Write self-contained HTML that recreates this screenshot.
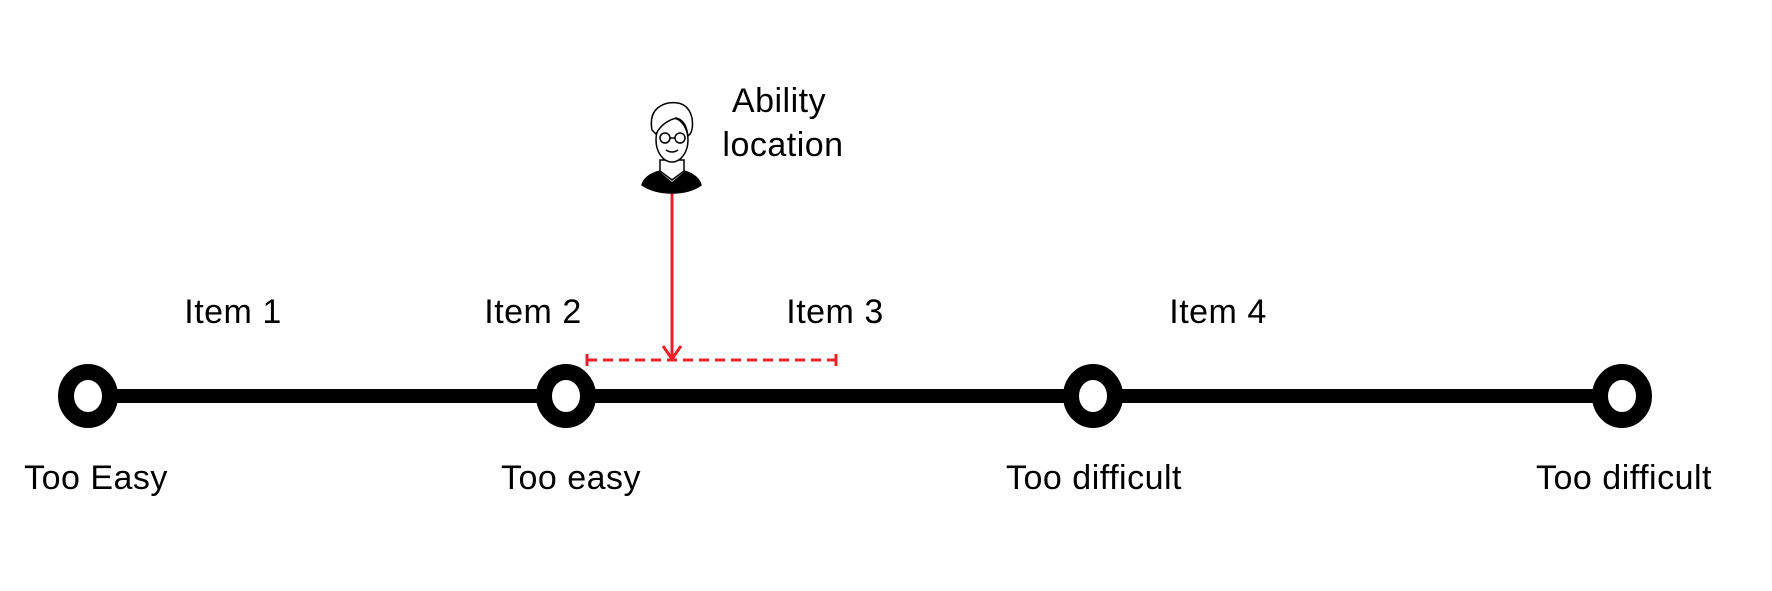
<!DOCTYPE html>
<html><head><meta charset="utf-8"><style>
html,body{margin:0;padding:0;background:#fff;}
svg{display:block}
text{font-family:"Liberation Sans",sans-serif;font-size:34px;fill:#000;text-anchor:middle;letter-spacing:0.5px}
</style></head><body>
<svg width="1772" height="591" viewBox="0 0 1772 591">
<line x1="88" y1="396" x2="1622" y2="396" stroke="#000" stroke-width="14"/>
<g fill="#fff" stroke="#000" stroke-width="16">
<ellipse cx="88" cy="396" rx="22" ry="24"/>
<ellipse cx="566" cy="396" rx="22" ry="24"/>
<ellipse cx="1093" cy="396" rx="22" ry="24"/>
<ellipse cx="1622" cy="396" rx="22" ry="24"/>
</g>
<text x="96" y="489">Too Easy</text>
<text x="571" y="489">Too easy</text>
<text x="1094" y="489">Too difficult</text>
<text x="1624" y="489">Too difficult</text>
<text x="233" y="323">Item 1</text>
<text x="533" y="323">Item 2</text>
<text x="835" y="323">Item 3</text>
<text x="1218" y="323">Item 4</text>
<text x="779" y="112">Ability</text>
<text x="783" y="156">location</text>
<g stroke="#f0202a" stroke-width="3" fill="none">
<line x1="587" y1="360" x2="836" y2="360" stroke-dasharray="10,6"/>
<line x1="587" y1="354" x2="587" y2="366"/>
<line x1="836" y1="354" x2="836" y2="366"/>
<line x1="672" y1="192" x2="672" y2="359"/>
<polyline points="663,346 672,359 681,346"/>
</g>
<g stroke="#000" stroke-width="1.5" fill="#fff">
<path d="M642,185 Q645,175 660,171 L684,171 Q698,175 701,185 Q690,193 672,193 Q654,193 642,185 Z" fill="#000"/>
<path d="M660,171 L672,181 L684,171" stroke="#fff" stroke-width="1.5" fill="none"/>
<path d="M660,160 L660,171 L672,180 L684,171 L684,160 Z"/>
<ellipse cx="672" cy="140" rx="16" ry="22"/>
<path d="M652,130 Q648,108 668,103 Q688,100 692,118 Q694,132 688,136 Q686,120 676,118 Q662,122 656,134 Z" fill="#fff"/>
<circle cx="665" cy="138" r="5" fill="none"/>
<circle cx="680" cy="138" r="5" fill="none"/>
<line x1="670" y1="138" x2="675" y2="138"/>
<path d="M666,150 Q672,154 678,150" fill="none"/>
</g>
</svg>
</body></html>
